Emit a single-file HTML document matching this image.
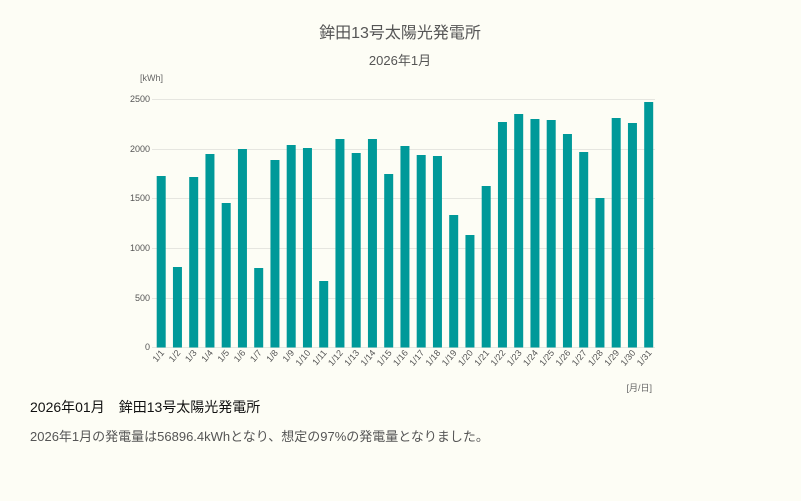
<!DOCTYPE html>
<html><head><meta charset="utf-8"><style>
body{margin:0;background:#fdfdf5;}
svg{display:block;font-family:"Liberation Sans","Noto Sans CJK JP",sans-serif;}
</style></head><body>
<svg width="801" height="501" viewBox="0 0 801 501">
<rect width="801" height="501" fill="#fdfdf5"/>
<text x="400" y="38" text-anchor="middle" font-size="16" fill="#555">鉾田13号太陽光発電所</text>
<text x="400" y="65" text-anchor="middle" font-size="13" fill="#555">2026年1月</text>
<text x="140" y="81" font-size="9" fill="#666">[kWh]</text>
<g stroke="#e6e6e0" stroke-width="1">
<line x1="152" x2="655" y1="99.5" y2="99.5"/><line x1="152" x2="655" y1="149.5" y2="149.5"/>
<line x1="152" x2="655" y1="198.5" y2="198.5"/><line x1="152" x2="655" y1="248.5" y2="248.5"/>
<line x1="152" x2="655" y1="298.5" y2="298.5"/><line x1="152" x2="655" y1="347.5" y2="347.5"/>
</g>
<g font-size="9" fill="#555" text-anchor="end">
<text x="150" y="102">2500</text><text x="150" y="152">2000</text><text x="150" y="201">1500</text>
<text x="150" y="251">1000</text><text x="150" y="301">500</text><text x="150" y="350">0</text>
</g>
<g id="bars" fill="#009999"></g>
<g id="lbl" font-size="9" fill="#555" text-anchor="end"></g>
<text x="652" y="391" text-anchor="end" font-size="9" fill="#666">[月/日]</text>
<text x="30" y="412" font-size="14" fill="#111">2026年01月　鉾田13号太陽光発電所</text>
<text x="30" y="441" font-size="13" fill="#555">2026年1月の発電量は56896.4kWhとなり、想定の97%の発電量となりました。</text>
</svg>
<script>
var tops=[176,267,177,154,203,149,268,160,145,148,281,139,153,139,174,146,155,156,215,235,186,122,114,119,120,134,152,198,118,123,102];
var b=document.getElementById('bars'),l=document.getElementById('lbl'),ns='http://www.w3.org/2000/svg';
tops.forEach(function(t,i){var x=156.7+16.25*i;
var r=document.createElementNS(ns,'rect');r.setAttribute('x',x);r.setAttribute('y',t);r.setAttribute('width',9);r.setAttribute('height',347.5-t);b.appendChild(r);
var tx=document.createElementNS(ns,'text');var cx=x+8,cy=353;tx.setAttribute('x',cx);tx.setAttribute('y',cy);tx.setAttribute('transform','rotate(-50 '+cx+' '+cy+')');tx.textContent='1/'+(i+1);l.appendChild(tx);});
</script>
</body></html>
